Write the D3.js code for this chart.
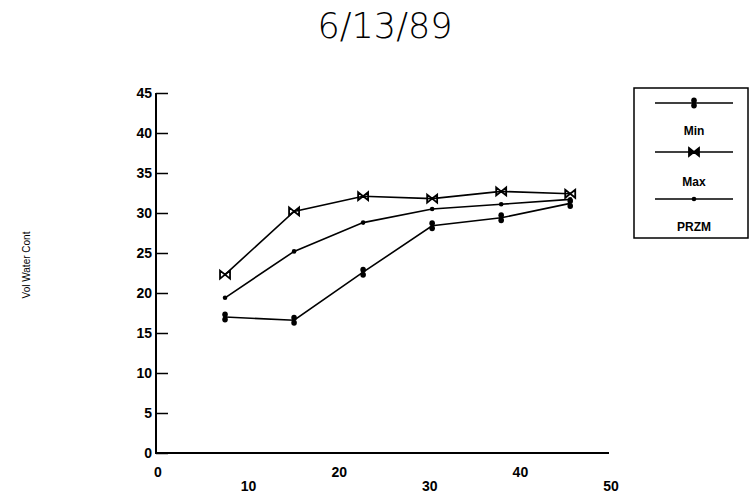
<!DOCTYPE html>
<html>
<head>
<meta charset="utf-8">
<script src="https://cdn.jsdelivr.net/npm/d3@7"></script>
<style>
  body { margin: 0; background: #fff; }
  text { font-family: "Liberation Sans", Arial, sans-serif; fill: #000; }
</style>
</head>
<body>
<div id="chart"></div>
<script>
// Depths (cm) and water content series
const depths = [7.62, 15.24, 22.86, 30.48, 38.1, 45.72];
const minVals = [17.0, 16.6, 22.6, 28.4, 29.4, 31.2];
const maxVals = [22.3, 30.2, 32.1, 31.8, 32.7, 32.4];
const przmVals = [19.4, 25.2, 28.8, 30.5, 31.1, 31.7];
const seriesNames = ["Min", "Max", "PRZM"];
const yTicks = [0, 5, 10, 15, 20, 25, 30, 35, 40, 45];
const xTicks = [0, 10, 20, 30, 40, 50];

const W = 753, H = 495;
const svg = d3.select("#chart").append("svg")
    .attr("width", W).attr("height", H);

// Scales
const x = d3.scaleLinear().domain([0, 50]).range([156, 609]);
const y = d3.scaleLinear().domain([0, 45]).range([453, 93]);

// Title
svg.append("text")
    .attr("x", 385).attr("y", 38)
    .attr("text-anchor", "middle")
    .style("font-size", "35px")
    .style("font-family", "'DejaVu Sans', sans-serif")
    .style("font-weight", "200")
    .text("6/13/89");

// Y axis label
svg.append("text")
    .attr("transform", "translate(30,265) rotate(-90)")
    .attr("text-anchor", "middle")
    .style("font-size", "10px")
    .text("Vol Water Cont");

// Y axis: ticks inside
const yAxis = d3.axisRight(y).tickValues(yTicks).tickSize(12);
const gy = svg.append("g")
    .attr("transform", `translate(${x(0)},0)`)
    .call(yAxis);
gy.select(".domain").attr("stroke-width", 2).attr("d", `M0,${y(45)}V${y(0)}`);
gy.selectAll(".tick line").attr("stroke-width", 1.5);
gy.selectAll(".tick text")
    .attr("text-anchor", "end")
    .attr("x", -4)
    .style("font-size", "14px")
    .style("font-weight", "bold");

// X axis: no ticks, staggered labels
svg.append("line")
    .attr("x1", x(0) - 1).attr("x2", x(50))
    .attr("y1", y(0)).attr("y2", y(0))
    .attr("stroke", "#000").attr("stroke-width", 2);
svg.selectAll(".xlab")
    .data(xTicks)
    .join("text")
    .attr("class", "xlab")
    .attr("x", d => x(d) + 2)
    .attr("y", (d, i) => i % 2 === 0 ? 477 : 491)
    .attr("text-anchor", "middle")
    .style("font-size", "14px")
    .style("font-weight", "bold")
    .text(d => d);

const line = d3.line().x(d => x(d[0])).y(d => y(d[1]));
const series = [minVals, maxVals, przmVals].map(v => depths.map((d, i) => [d, v[i]]));

// Marker shapes
function drawMarker(g, type, cx, cy, filled) {
  if (type === "Min") {
    g.append("ellipse").attr("cx", cx).attr("cy", cy - 2.5).attr("rx", 2.8).attr("ry", 3).attr("fill", "#000");
    g.append("ellipse").attr("cx", cx).attr("cy", cy + 2.5).attr("rx", 2.8).attr("ry", 3).attr("fill", "#000");
  } else if (type === "Max") {
    g.append("path")
        .attr("d", `M${cx - 5},${cy - 4}L${cx},${cy}L${cx - 5},${cy + 4}Z M${cx + 5},${cy - 4}L${cx},${cy}L${cx + 5},${cy + 4}Z`)
        .attr("fill", filled ? "#000" : "none").attr("stroke", "#000").attr("stroke-width", 1.8);
  } else {
    g.append("circle").attr("cx", cx).attr("cy", cy).attr("r", 2.3).attr("fill", "#000");
  }
}

const plot = svg.append("g");
series.forEach((s, k) => {
  plot.append("path")
      .attr("d", line(s))
      .attr("fill", "none")
      .attr("stroke", "#000")
      .attr("stroke-width", 1.6);
  s.forEach(p => drawMarker(plot, seriesNames[k], x(p[0]), y(p[1]), false));
});

// Legend
const leg = svg.append("g");
leg.append("rect")
    .attr("x", 634).attr("y", 88).attr("width", 114).attr("height", 150)
    .attr("fill", "none").attr("stroke", "#000").attr("stroke-width", 1.5);
const legLineY = [103, 152, 199];
const legTextY = [135, 186, 231];
seriesNames.forEach((name, i) => {
  leg.append("line")
      .attr("x1", 655).attr("x2", 733)
      .attr("y1", legLineY[i]).attr("y2", legLineY[i])
      .attr("stroke", "#000").attr("stroke-width", 1.6);
  drawMarker(leg, name, 694, legLineY[i], true);
  leg.append("text")
      .attr("x", 694).attr("y", legTextY[i])
      .attr("text-anchor", "middle")
      .style("font-size", "12px")
      .style("font-weight", "bold")
      .text(name);
});
</script>
</body>
</html>
